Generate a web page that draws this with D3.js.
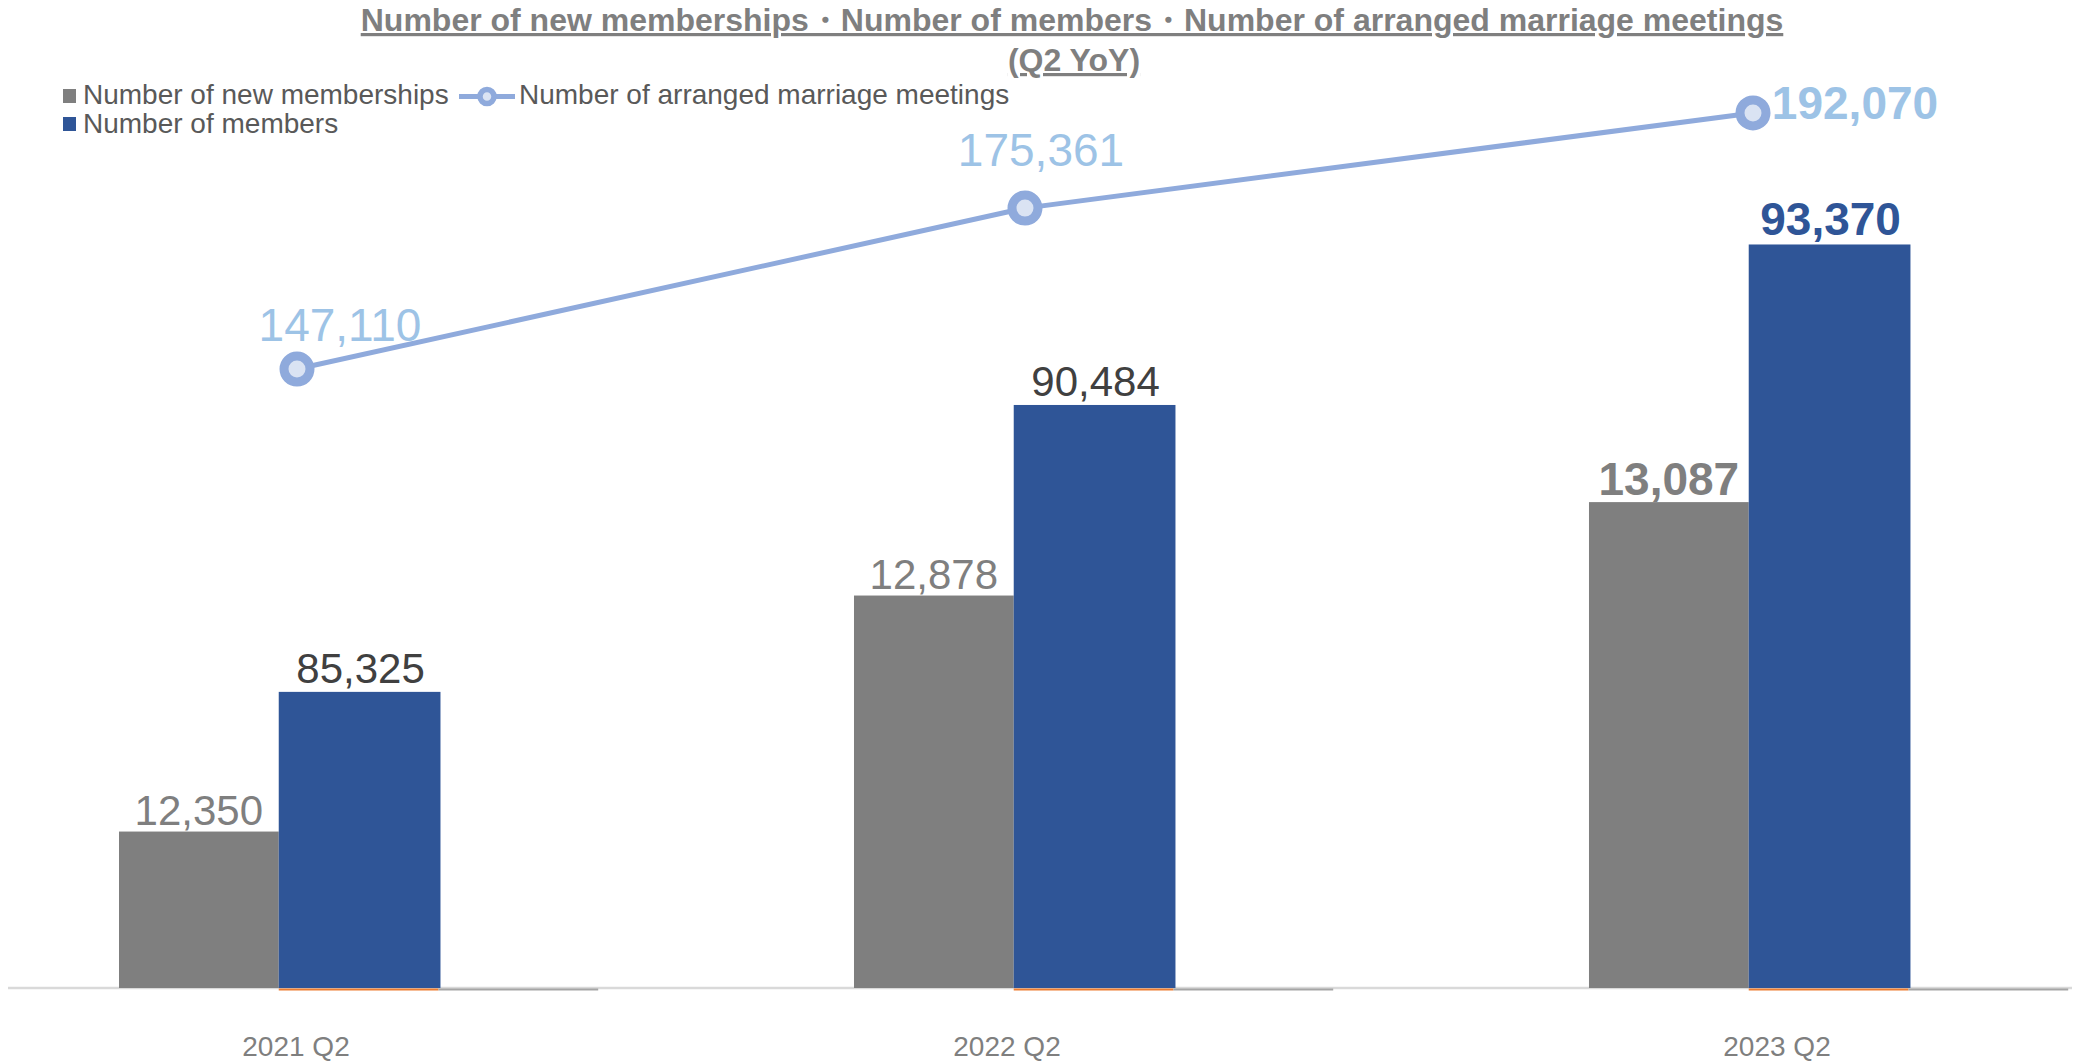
<!DOCTYPE html>
<html>
<head>
<meta charset="utf-8">
<script src="https://d3js.org/d3.v7.min.js"></script>
<style>
  html, body { margin: 0; padding: 0; background: #fff; }
  svg { display: block; font-family: "Liberation Sans", Arial, sans-serif; }
</style>
</head>
<body>
<svg id="chart" width="2099" height="1061"></svg>
<script>
// ---- data ----
const categories = ["2021 Q2", "2022 Q2", "2023 Q2"];
const newMemberships = [12350, 12878, 13087];
const members = [85325, 90484, 93370];
const meetings = [147110, 175361, 192070];
const seriesNames = ["Number of new memberships", "Number of members", "Number of arranged marriage meetings"];
const titleLines = ["Number of new memberships・Number of members・Number of arranged marriage meetings", "(Q2 YoY)"];
const boldLast = [false, false, true]; // last period's labels are bold

// ---- layout ----
const W = 2099, H = 1061;
const baseY = 988;
const svg = d3.select("#chart");

const C = {
  gray: "#7f7f7f", blue: "#2f5597", line: "#8faadc", markerFill: "#dae3f3",
  lineLabel: "#9dc3e6", dark: "#404040", axis: "#d9d9d9", legend: "#595959",
  orange: "#ed7d31", gray2: "#a5a5a5"
};

// scales
const x0 = d3.scaleBand().domain(categories).range([45.5, 2141.7]).paddingInner(0.348).paddingOuter(0.1);
const x1 = d3.scaleBand().domain(["new", "members", "extra"]).range([0, x0.bandwidth()]);
const xLine = d3.scalePoint().domain(categories).range([297, 1753]);
const xLabel = d3.scaleOrdinal().domain(categories).range([296, 1007, 1777]);
const yMembers = d3.scaleLinear().domain([80000, 98000]).range([baseY, -13]);
const yNew = d3.scaleLinear().domain([12000, 14000]).range([baseY, 94]);
const yMeet = d3.scaleLinear().domain([140000, 200000]).range([409.5, 67.8]);
const fmt = d3.format(",");

// title
const title = svg.append("g").attr("fill", C.gray).attr("font-weight", "bold")
  .attr("font-size", 32).attr("text-anchor", "middle")
  .style("text-decoration", "underline");
title.append("text").attr("x", 1072).attr("y", 31).text(titleLines[0]);
title.append("text").attr("x", 1074).attr("y", 71).text(titleLines[1]);

// baseline axis
svg.append("line").attr("x1", 8).attr("x2", 2072).attr("y1", baseY).attr("y2", baseY)
  .attr("stroke", C.axis).attr("stroke-width", 2.5);

// zero-height series traces on the axis
categories.forEach(c => {
  svg.append("rect").attr("x", x0(c) + x1("members")).attr("y", baseY + 0.5)
    .attr("width", x1.bandwidth()).attr("height", 2).attr("fill", C.orange);
  svg.append("rect").attr("x", x0(c) + x1("extra")).attr("y", baseY + 0.5)
    .attr("width", x1.bandwidth()).attr("height", 2).attr("fill", C.gray2);
});

// bars
const groups = svg.append("g").selectAll("g").data(categories).join("g")
  .attr("transform", c => `translate(${x0(c)},0)`);
groups.append("rect")
  .attr("x", x1("new")).attr("width", x1.bandwidth())
  .attr("y", (c, i) => yNew(newMemberships[i]))
  .attr("height", (c, i) => baseY - yNew(newMemberships[i]))
  .attr("fill", C.gray);
groups.append("rect")
  .attr("x", x1("members")).attr("width", x1.bandwidth() + 2)
  .attr("y", (c, i) => yMembers(members[i]))
  .attr("height", (c, i) => baseY - yMembers(members[i]))
  .attr("fill", C.blue);

// bar labels
groups.append("text")
  .attr("x", x1("new") + x1.bandwidth() / 2)
  .attr("y", (c, i) => yNew(newMemberships[i]) - 7)
  .attr("text-anchor", "middle")
  .attr("font-size", (c, i) => boldLast[i] ? 46 : 42)
  .attr("font-weight", (c, i) => boldLast[i] ? "bold" : "normal")
  .attr("fill", C.gray)
  .text((c, i) => fmt(newMemberships[i]));
groups.append("text")
  .attr("x", x1("members") + x1.bandwidth() / 2 + 2)
  .attr("y", (c, i) => yMembers(members[i]) - 9)
  .attr("text-anchor", "middle")
  .attr("font-size", (c, i) => boldLast[i] ? 46 : 42)
  .attr("font-weight", (c, i) => boldLast[i] ? "bold" : "normal")
  .attr("fill", (c, i) => boldLast[i] ? C.blue : C.dark)
  .text((c, i) => fmt(members[i]));

// line
const lineGen = d3.line().x((d, i) => xLine(categories[i])).y(d => yMeet(d));
svg.append("path").datum(meetings).attr("d", lineGen)
  .attr("fill", "none").attr("stroke", C.line).attr("stroke-width", 5);
svg.append("g").selectAll("circle").data(meetings).join("circle")
  .attr("cx", (d, i) => xLine(categories[i])).attr("cy", d => yMeet(d))
  .attr("r", 13).attr("fill", C.markerFill).attr("stroke", C.line).attr("stroke-width", 9);

// line labels
const meetLabelOffset = [[43, -28], [16, -42], [102, 6]];
svg.append("g").selectAll("text").data(meetings).join("text")
  .attr("x", (d, i) => xLine(categories[i]) + meetLabelOffset[i][0])
  .attr("y", (d, i) => yMeet(d) + meetLabelOffset[i][1])
  .attr("text-anchor", "middle")
  .attr("font-size", 46)
  .attr("font-weight", (d, i) => boldLast[i] ? "bold" : "normal")
  .attr("fill", C.lineLabel)
  .text(d => fmt(d));

// x axis labels
svg.append("g").selectAll("text").data(categories).join("text")
  .attr("x", c => xLabel(c)).attr("y", 1056)
  .attr("text-anchor", "middle").attr("font-size", 28).attr("fill", C.gray)
  .text(c => c);

// legend
const lg = svg.append("g").attr("font-size", 28).attr("fill", C.legend);
lg.append("rect").attr("x", 63).attr("y", 89).attr("width", 13).attr("height", 14).attr("fill", C.gray);
lg.append("text").attr("x", 83).attr("y", 104).text(seriesNames[0]);
lg.append("line").attr("x1", 459).attr("x2", 515).attr("y1", 96.5).attr("y2", 96.5)
  .attr("stroke", C.line).attr("stroke-width", 5);
lg.append("circle").attr("cx", 487).attr("cy", 96.5).attr("r", 7)
  .attr("fill", C.markerFill).attr("stroke", C.line).attr("stroke-width", 5.5);
lg.append("text").attr("x", 519).attr("y", 104).text(seriesNames[2]);
lg.append("rect").attr("x", 63).attr("y", 117).attr("width", 13).attr("height", 14).attr("fill", C.blue);
lg.append("text").attr("x", 83).attr("y", 132.5).text(seriesNames[1]);
</script>
</body>
</html>
